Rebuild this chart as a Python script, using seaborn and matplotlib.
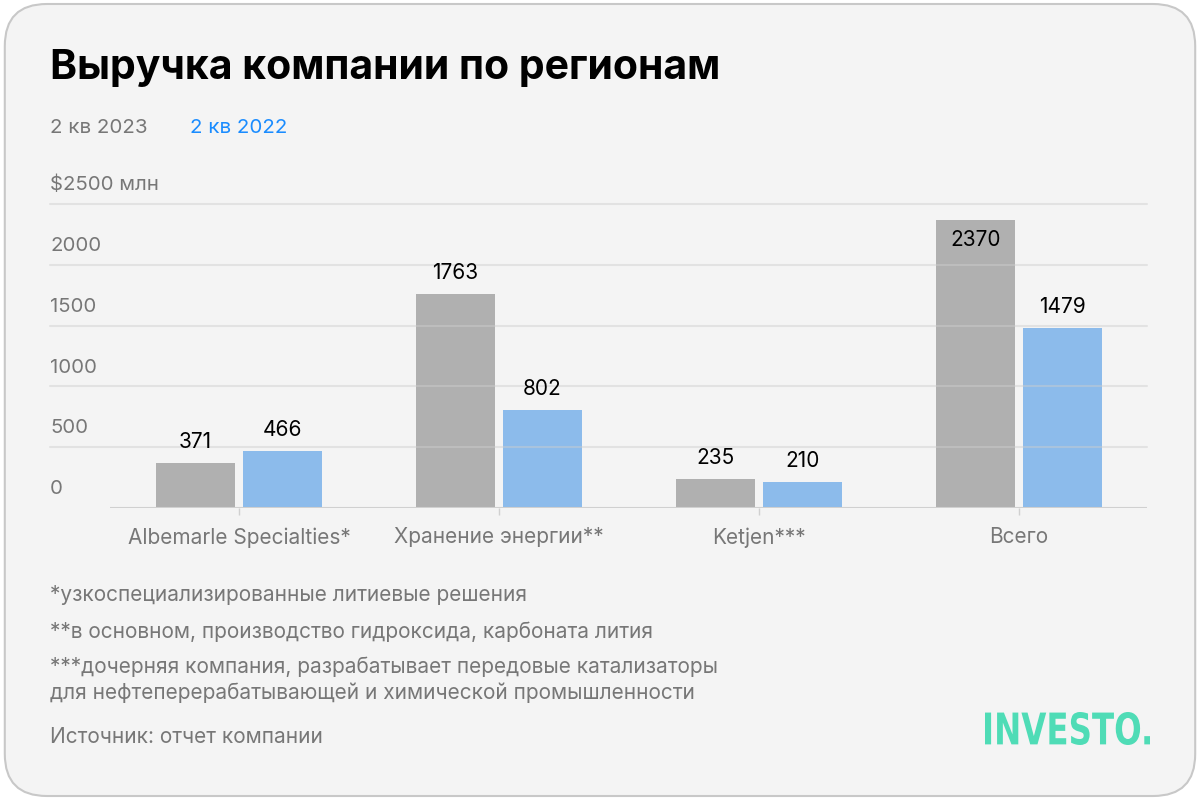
import numpy as np
import pandas as pd
import matplotlib.pyplot as plt
import seaborn as sns
from matplotlib.patches import FancyBboxPatch, PathPatch
from matplotlib.textpath import TextPath
from matplotlib.font_manager import FontProperties
from matplotlib.transforms import blended_transform_factory, offset_copy, Affine2D, IdentityTransform

categories = ['Albemarle Specialties*', 'Хранение энергии**', 'Ketjen***', 'Всего']
q2_2023 = [371, 1763, 235, 2370]
q2_2022 = [466, 802, 210, 1479]
series_names = ['2 кв 2023', '2 кв 2022']
y_ticks = [0, 500, 1000, 1500, 2000, 2500]
y_tick_labels = ['0', '500', '1000', '1500', '2000', '$2500 млн']
footnotes = [
    '*узкоспециализированные литиевые решения',
    '**в основном, производство гидроксида, карбоната лития',
    '***дочерняя компания, разрабатывает передовые катализаторы\nдля нефтеперерабатывающей и химической промышленности',
    'Источник: отчет компании',
]

BG = '#f4f4f4'
GRAY = '#b0b0b0'
BLUE = '#8cbbeb'
TXT_GRAY = '#777777'

df = pd.DataFrame({
    'cat': categories * 2,
    'val': q2_2023 + q2_2022,
    'series': [series_names[0]] * 4 + [series_names[1]] * 4,
})

sns.set_theme(style='white')
plt.rcParams['font.family'] = ['Inter', 'DejaVu Sans']

fig = plt.figure(figsize=(12, 8), dpi=100)
fig.patch.set_facecolor('white')
fig.patches.append(FancyBboxPatch((0.004, 0.005), 0.992, 0.99, boxstyle='round,pad=0,rounding_size=0.035',
                                  transform=fig.transFigure, facecolor=BG, edgecolor='#c8c8c8',
                                  linewidth=1.5, mutation_aspect=1.5, zorder=-10))

ax = fig.add_axes([110 / 1200, 1 - 508 / 800, 1037 / 1200, 304 / 800])
ax.set_facecolor('none')

sns.barplot(data=df, x='cat', y='val', hue='series', palette=[GRAY, BLUE],
            width=0.67, gap=0.09, ax=ax, legend=False, saturation=1, zorder=2,
            linewidth=0, edgecolor='none')

ax.set_xlim(-0.496, 3.492)
ax.set_ylim(0, 2500)
ax.set_yticks([])
ax.set_xlabel('')
ax.set_ylabel('')
for s in ax.spines.values():
    s.set_visible(False)

# gridlines on top of bars, extending left to the label column
xmin = (50 - 110) / 1037
for t in y_ticks[1:]:
    ax.axhline(t, xmin=xmin, xmax=1, color='#cdcdcd', alpha=0.45, lw=1.5, zorder=5, clip_on=False)
ax.axhline(0, color='#d0d0d0', lw=1.5, zorder=5)

# y tick labels above their gridlines
trans = blended_transform_factory(fig.transFigure, ax.transData)
trans = offset_copy(trans, fig=fig, y=7, units='points')
for t, lab in zip(y_ticks, y_tick_labels):
    ax.text(50 / 1200, t, lab, transform=trans, ha='left', va='bottom',
            fontsize=14.7, color=TXT_GRAY)

ax.tick_params(axis='x', length=5, width=1, color='#d0d0d0', pad=9,
               labelsize=15, labelcolor=TXT_GRAY, bottom=True, direction='out')

# value labels
for cont in ax.containers:
    for bar in cont:
        h = bar.get_height()
        xc = bar.get_x() + bar.get_width() / 2
        if h > 2200:
            ax.annotate(f'{h:.0f}', (xc, h), xytext=(0, -7), textcoords='offset points',
                        ha='center', va='top', fontsize=15, color='black', zorder=6)
        else:
            ax.annotate(f'{h:.0f}', (xc, h), xytext=(0, 8), textcoords='offset points',
                        ha='center', va='bottom', fontsize=15, color='black', zorder=6)

# title and legend
fig.text(50 / 1200, 1 - 68 / 800, 'Выручка компании по регионам', fontsize=29.5,
         fontweight='bold', color='black', ha='left', va='center')
fig.text(50 / 1200, 1 - 128 / 800, series_names[0], fontsize=14.8, color=TXT_GRAY, ha='left', va='center')
fig.text(190 / 1200, 1 - 128 / 800, series_names[1], fontsize=14.8, color='#1a8cff', ha='left', va='center')

# footnotes
fy = [595, 632, 680, 737]
for y, note in zip(fy, footnotes):
    fig.text(50 / 1200, 1 - y / 800, note, fontsize=15, color=TXT_GRAY, ha='left', va='center',
             linespacing=1.32)

# logo: condensed heavy lettering, squeezed horizontally
logo = TextPath((0, 0), 'INVESTO.', size=45, prop=FontProperties(family='DejaVu Sans', weight='heavy'))
ext = logo.get_extents()
sx = 165 / ext.width
sy = 33 / ext.height
tr = Affine2D().translate(-ext.x0, -ext.y0).scale(sx, sy).translate(985, 800 - 745) + IdentityTransform()
fig.patches.append(PathPatch(logo, transform=tr, facecolor='#4fdcb6', edgecolor='none'))

fig.savefig('out.png', dpi=100, facecolor=fig.get_facecolor())
